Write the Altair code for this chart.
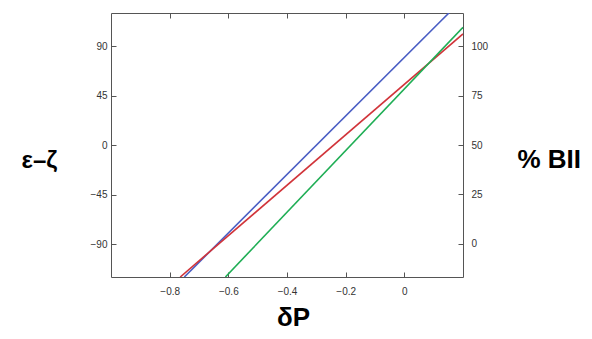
import altair as alt
import pandas as pd

series = ["blue", "red", "green"]
x_start = [-0.75, -0.764, -0.61]
y_start = [-120, -120, -120]
x_end = [0.152, 0.2, 0.2]
y_end = [120, 101, 107]
colors = ["#4a5ec4", "#d1343a", "#1fae55"]

x_ticks = [-0.8, -0.6, -0.4, -0.2, 0]
left_ticks = [-90, -45, 0, 45, 90]
right_ticks = [0, 25, 50, 75, 100]

rows = []
for s, x0, y0, x1, y1 in zip(series, x_start, y_start, x_end, y_end):
    rows.append({"series": s, "x": x0, "y": y0, "o": 0})
    rows.append({"series": s, "x": x1, "y": y1, "o": 1})
df = pd.DataFrame(rows)
dummy = pd.DataFrame({"r": right_ticks, "x": [0.0] * len(right_ticks)})

FONT = "Liberation Sans"
base_axis = dict(
    domain=False, tickColor="#555", tickWidth=1, tickSize=5, offset=-5,
    labelFont=FONT, labelFontSize=10, labelColor="#333", grid=False,
)
title_style = dict(titleFont=FONT, titleFontWeight="bold", titleColor="#000")

xscale = alt.Scale(domain=[-1.0, 0.2], nice=False, zero=False)

lines = alt.Chart(df).mark_line(strokeWidth=1.6, clip=True).encode(
    x=alt.X("x:Q", scale=xscale,
            axis=alt.Axis(values=x_ticks, format=".1~f", title="δP",
                          labelPadding=9, titleAngle=0, titleX=182, titleY=53,
                          titleBaseline="alphabetic", titleAlign="center", titleFontSize=26,
                          **base_axis, **title_style)),
    y=alt.Y("y:Q", scale=alt.Scale(domain=[-120, 120], nice=False, zero=False),
            axis=alt.Axis(values=left_ticks, title="ε–ζ", labelPadding=4, titleAngle=0,
                          titleX=-77, titleY=154, titleBaseline="alphabetic",
                          titleAlign="center", titleFontSize=24, **base_axis, **title_style)),
    color=alt.Color("series:N", scale=alt.Scale(domain=series, range=colors), legend=None),
    order="o:Q",
)

right = alt.Chart(dummy).mark_tick(opacity=0).encode(
    x=alt.X("x:Q", scale=xscale,
            axis=alt.Axis(orient="top", values=x_ticks, labels=False, title=None, **base_axis)),
    y=alt.Y("r:Q", scale=alt.Scale(domain=[-16.667, 116.667], nice=False, zero=False),
            axis=alt.Axis(orient="right", values=right_ticks, title="% BII", labelPadding=8,
                          titleAngle=0, titleX=59, titleY=154, titleBaseline="alphabetic",
                          titleAlign="left", titleFontSize=26, **base_axis, **title_style)),
)

chart = alt.layer(lines, right).resolve_scale(y="independent").resolve_axis(x="independent").properties(
    width=352, height=264,
    autosize=alt.AutoSizeParams(type="none"),
    padding={"left": 103, "top": 5, "right": 120, "bottom": 54},
).configure_view(stroke="#555", strokeWidth=1)

chart.save("out.html", embed_options={"renderer": "svg", "actions": False})
